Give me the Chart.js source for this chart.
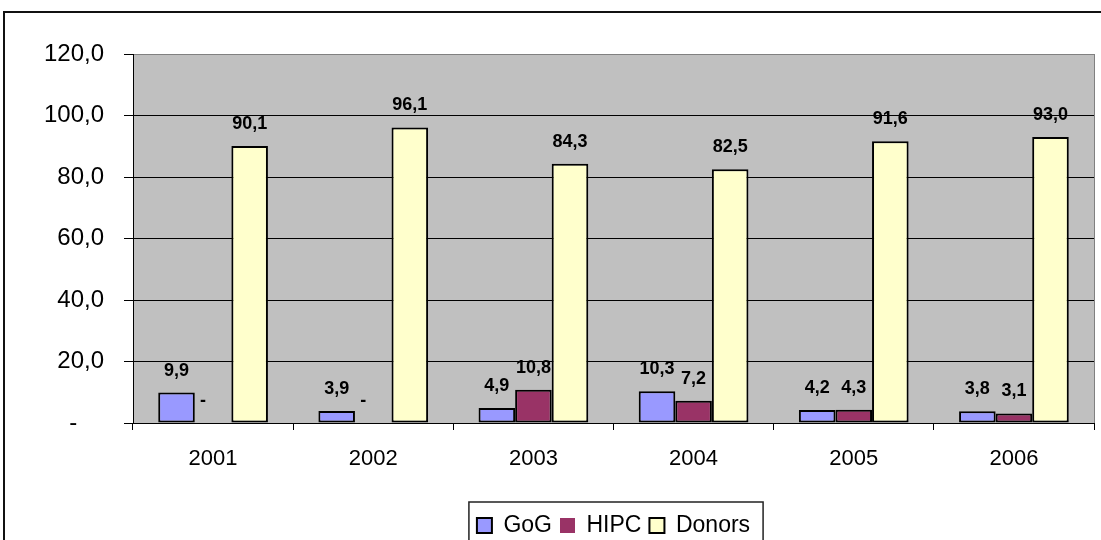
<!DOCTYPE html>
<html>
<head>
<meta charset="utf-8">
<script src="https://cdn.jsdelivr.net/npm/chart.js@4/dist/chart.umd.min.js"></script>
<style>
  html, body { margin: 0; padding: 0; background: #fff; }
  canvas { display: block; }
</style>
</head>
<body>
<canvas id="fundChart" width="1101" height="540"></canvas>
<script>
const years = ['2001', '2002', '2003', '2004', '2005', '2006'];
const gog = [9.9, 3.9, 4.9, 10.3, 4.2, 3.8];
const hipc = [0, 0, 10.8, 7.2, 4.3, 3.1];
const donors = [90.1, 96.1, 84.3, 82.5, 91.6, 93.0];
const yTicks = [0, 20, 40, 60, 80, 100, 120];

const FONT = "'Liberation Sans', Arial, sans-serif";

function fmt(v) {
    return v.toFixed(1).replace('.', ',');
}

// grey plot area, outer frame, value labels and the box round the legend
const decor = {
    id: 'decor',
    beforeDraw(chart) {
        const c = chart.ctx;
        const a = chart.chartArea;
        c.save();
        c.fillStyle = '#fff';
        c.fillRect(0, 0, chart.width, chart.height);
        c.fillStyle = '#c0c0c0';
        c.fillRect(a.left, a.top, a.right - a.left, a.bottom - a.top);
        c.restore();
    },
    afterDatasetsDraw(chart) {
        const c = chart.ctx;
        const a = chart.chartArea;
        c.save();
        c.strokeStyle = '#808080';
        c.lineWidth = 1;
        c.beginPath();
        c.moveTo(a.right + 0.5, a.top);
        c.lineTo(a.right + 0.5, a.bottom);
        c.stroke();
        c.font = 'bold 18px ' + FONT;
        c.fillStyle = '#000';
        c.textAlign = 'center';
        c.textBaseline = 'middle';
        chart.data.datasets.forEach((ds, i) => {
            chart.getDatasetMeta(i).data.forEach((bar, j) => {
                const v = ds.data[j];
                const txt = v === 0 ? '-    ' : fmt(v);
                c.fillText(txt, bar.x, bar.y - 22);
            });
        });
        c.restore();
    },
    afterDraw(chart) {
        const c = chart.ctx;
        c.save();
        c.strokeStyle = '#111';
        c.lineWidth = 2;
        c.strokeRect(4, 12, chart.width + 20, chart.height + 20);
        const boxes = chart.legend.legendHitBoxes;
        if (boxes && boxes.length) {
            const first = boxes[0];
            const last = boxes[boxes.length - 1];
            const left = first.left - 8;
            const right = last.left + last.width + 13;
            const top = first.top - 12;
            c.strokeStyle = '#222';
            c.lineWidth = 1.5;
            c.strokeRect(left, top, right - left, chart.height - top + 10);
        }
        c.restore();
    }
};

const ctx = document.getElementById('fundChart').getContext('2d');
const fundChart = new Chart(ctx, {
    type: 'bar',
    data: {
        labels: years,
        datasets: [
            { label: 'GoG', data: gog, backgroundColor: '#9999ff' },
            { label: 'HIPC', data: hipc, backgroundColor: '#993366' },
            { label: 'Donors', data: donors, backgroundColor: '#ffffcc' }
        ]
    },
    options: {
        responsive: false,
        animation: false,
        devicePixelRatio: 1,
        layout: { padding: { left: 0, top: 54, right: 7, bottom: -7 } },
        datasets: {
            bar: {
                borderColor: '#000',
                borderWidth: (c) => (c.raw === 0 ? 0 : 2),
                borderSkipped: false,
                categoryPercentage: 0.685,
                barPercentage: 1.0
            }
        },
        plugins: {
            legend: {
                position: 'bottom',
                fullSize: false,
                labels: {
                    color: '#000',
                    font: { family: FONT, size: 23 },
                    boxWidth: 15,
                    boxHeight: 15,
                    padding: 8
                }
            },
            tooltip: { enabled: false }
        },
        scales: {
            x: {
                grid: {
                    display: true,
                    drawOnChartArea: false,
                    drawTicks: true,
                    tickLength: 7,
                    tickColor: '#000',
                    offset: true
                },
                border: { color: '#000', width: 1 },
                ticks: {
                    color: '#000',
                    font: { family: FONT, size: 22 },
                    padding: 16
                },
                afterFit(scale) { scale.height = 83; }
            },
            y: {
                min: 0,
                max: 120,
                afterBuildTicks(scale) {
                    scale.ticks = yTicks.map(v => ({ value: v }));
                },
                grid: {
                    color: (c) => (c.tick && c.tick.value === 120 ? '#808080' : '#000'),
                    tickColor: '#000',
                    tickLength: 9,
                    lineWidth: 1
                },
                border: { color: '#000', width: 1 },
                ticks: {
                    color: '#000',
                    font: { family: FONT, size: 24 },
                    padding: 20,
                    callback: (v) => (v === 0 ? '-    ' : fmt(v))
                },
                afterFit(scale) { scale.width = 133; }
            }
        }
    },
    plugins: [decor]
});
</script>
</body>
</html>
